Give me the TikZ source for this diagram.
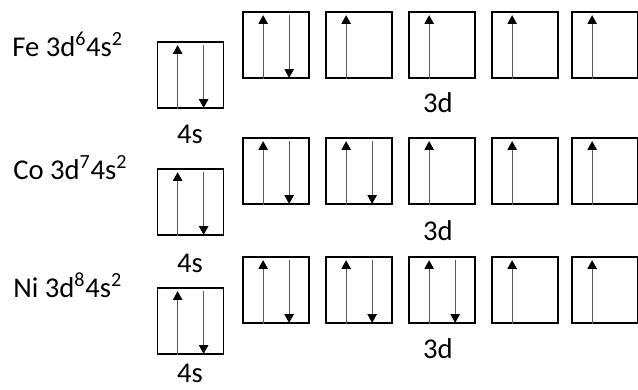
\documentclass[tikz,border=0pt]{standalone}
\usepackage{fontspec}
\setmainfont{Carlito}
\usetikzlibrary{
  positioning,
  arrows.meta,
  calc
}

\begin{document}
\begin{tikzpicture}[
    x=0.75pt, y=-0.75pt,
    orb/.style={draw, rectangle, line width=1.3pt, minimum width=49.5pt, minimum height=49.5pt, inner sep=0pt},
    spin/.style={gray!70!black, line width=0.75pt, -{Triangle[length=6.5pt, width=7pt, color=black]}},
    lbl/.style={font=\fontsize{21.5}{25}\selectfont, inner sep=0pt}
]
    \useasboundingbox (0,0) rectangle (638,389);

    % 电子排布
    \node[lbl, anchor=base west] (fe) at (12,56) {Fe 3d\textsuperscript{6}4s\textsuperscript{2}};
    \node[lbl, anchor=base west] (co) at (13,179) {Co 3d\textsuperscript{7}4s\textsuperscript{2}};
    \node[lbl, anchor=base west] (ni) at (13,297) {Ni 3d\textsuperscript{8}4s\textsuperscript{2}};

    % 4s 轨道
    \foreach \el/\top/\base in {fe/42/143, co/169/272, ni/288/382} {
        \node[orb] (\el4s) at (190.5,\top+33) {};
        \draw[spin] ($(\el4s.south west)+(21,0)$) -- ($(\el4s.north west)+(21,4)$);
        \draw[spin] ($(\el4s.north west)+(47,4)$) -- ($(\el4s.south west)+(47,-1)$);
        \node[lbl, anchor=base] (\el4slbl) at (190,\base) {4s};
    }

    % 3d 轨道
    \foreach \el/\top/\n/\base in {fe/12/6/112, co/138/7/240, ni/257/8/358} {
        \pgfmathtruncatemacro{\paired}{\n-5}
        \foreach \i/\x in {1/243, 2/326, 3/409, 4/492, 5/572} {
            \node[orb] (\el3d\i) at (\x+33,\top+33) {};
            \draw[spin] ($(\el3d\i.south west)+(21,0)$) -- ($(\el3d\i.north west)+(21,4)$);
            \ifnum\i>\paired\else
                \draw[spin] ($(\el3d\i.north west)+(47,4)$) -- ($(\el3d\i.south west)+(47,-1)$);
            \fi
        }
        \node[lbl, anchor=base] (\el3dlbl) at (438,\base) {3d};
    }
\end{tikzpicture}
\end{document}
